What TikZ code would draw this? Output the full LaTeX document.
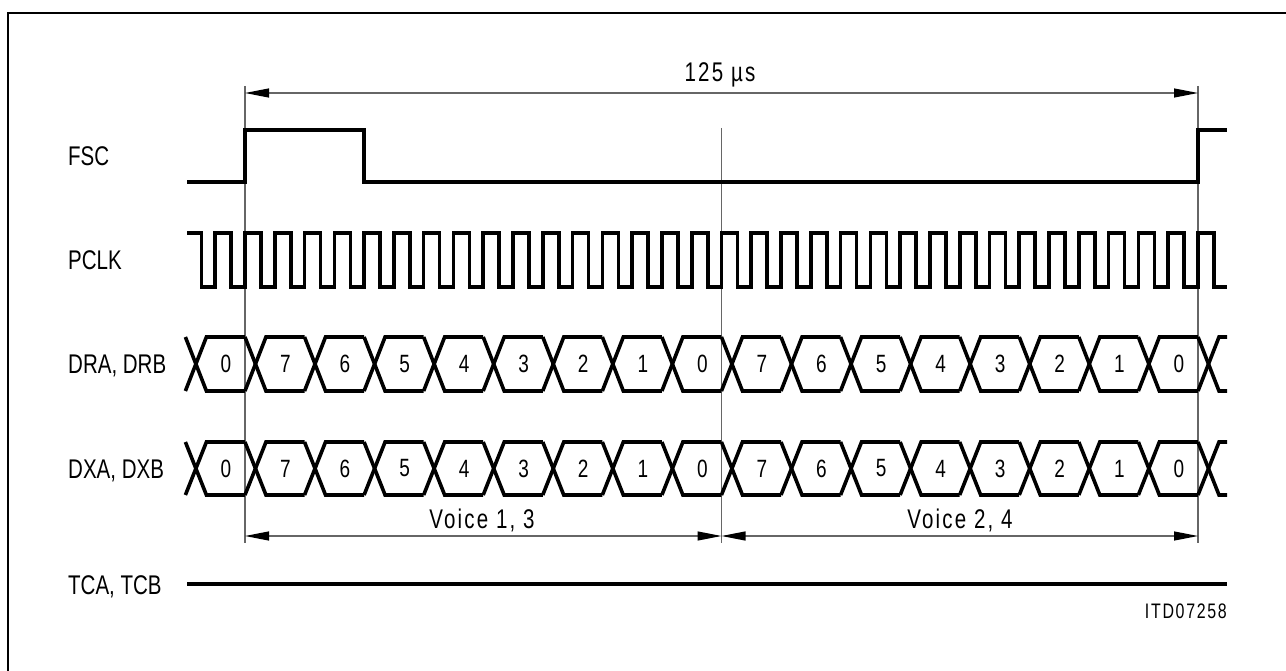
\documentclass[tikz,border=0pt]{standalone}
\usepackage{fontspec}
\setmainfont{Liberation Sans}[FakeStretch=0.76]
\newfontfamily\spacedfont{Liberation Sans}[FakeStretch=0.76, LetterSpace=8]
\usetikzlibrary{arrows.meta}

\tikzset{
  sig/.style={line width=3.6pt},
  guide/.style={line width=1.2pt, black!60},
  dimtip/.tip={Triangle[length=24pt,width=9pt,color=black]},
  dim/.style={guide, dimtip-dimtip},
  lbl/.style={anchor=base west, inner sep=0pt, font=\fontsize{27}{30}\selectfont},
  bit/.style={inner sep=0pt, font=\fontsize{25}{28}\selectfont},
  note/.style={anchor=base, inner sep=0pt, font=\spacedfont\fontsize{27}{30}\selectfont},
}

\begin{document}
\begin{tikzpicture}[x=1pt,y=-1pt]
    \useasboundingbox (0,0) rectangle (1286,671);
    \draw[line width=2.5pt] (8,690) -- (8,13) -- (1300,13); % Frame

    % Guide lines
    \coordinate (ga) at (245,86);   \coordinate (gaa) at (245,543);
    \coordinate (gb) at (721.5,128); \coordinate (gbb) at (721.5,543);
    \coordinate (gc) at (1198,86);  \coordinate (gcc) at (1198,543);
    \draw[guide] (ga) -- (gaa);
    \draw[guide] (gb) -- (gbb);
    \draw[guide] (gc) -- (gcc);

    % Period
    \draw[dim] (245,93) coordinate (pa) -- (1198,93) coordinate (pb);
    \node[note] (period) at (720,82) {125 µs};

    % Signal names
    \node[lbl] (fsc) at (68,166) {FSC};
    \node[lbl] (pclk) at (68,270) {PCLK};
    \node[lbl] (dr) at (68,373) {DRA, DRB};
    \node[lbl] (dx) at (68,478) {DXA, DXB};
    \node[lbl] (tc) at (68,594) {TCA, TCB};

    % FSC
    \draw[sig] (187,182) -- (245,182) -- (245,130) -- (364,130) -- (364,182)
        -- (1198,182) -- (1198,130) -- (1227,130);

    % PCLK
    \draw[sig] (187,233) -- (201.4,233) -- (201.4,287)
        \foreach \k in {-1,...,32} {
            -- ({245+\k*29.78},287) -- ({245+\k*29.78},233)
            -- ({261+\k*29.78},233) -- ({261+\k*29.78},287)
        } -- (1227,287);

    % DRA, DRB and DXA, DXB
    \foreach \yc/\h in {364/27, 468.5/26.5} {
        \foreach \d [count=\j from 0] in {0,7,6,5,4,3,2,1,0,7,6,5,4,3,2,1,0} {
            \pgfmathsetmacro{\bx}{185.4+\j*59.56}
            \draw[sig] (\bx,\yc-\h) -- (\bx+21,\yc+\h) -- (\bx+59.56,\yc+\h);
            \draw[sig] (\bx,\yc+\h) -- (\bx+21,\yc-\h) -- (\bx+59.56,\yc-\h);
            \node[bit] (b\j) at (\bx+40.5,\yc) {\d};
        }
        \draw[sig] (1198,\yc-\h) -- (1219,\yc+\h) -- (1227,\yc+\h);
        \draw[sig] (1198,\yc+\h) -- (1219,\yc-\h) -- (1227,\yc-\h);
    }

    % Voice slots
    \draw[dim] (245,536) coordinate (va) -- (721.5,536) coordinate (vb);
    \draw[dim] (721.5,536) -- (1198,536) coordinate (vc);
    \node[note] (v13) at (482,528) {Voice 1, 3};
    \node[note] (v24) at (960,528) {Voice 2, 4};

    % TCA, TCB
    \draw[sig] (187,584) -- (1227,584);

    \node[anchor=base east, inner sep=0pt, font=\spacedfont\fontsize{21}{24}\selectfont] (id) at (1227,618) {ITD07258};
\end{tikzpicture}
\end{document}
